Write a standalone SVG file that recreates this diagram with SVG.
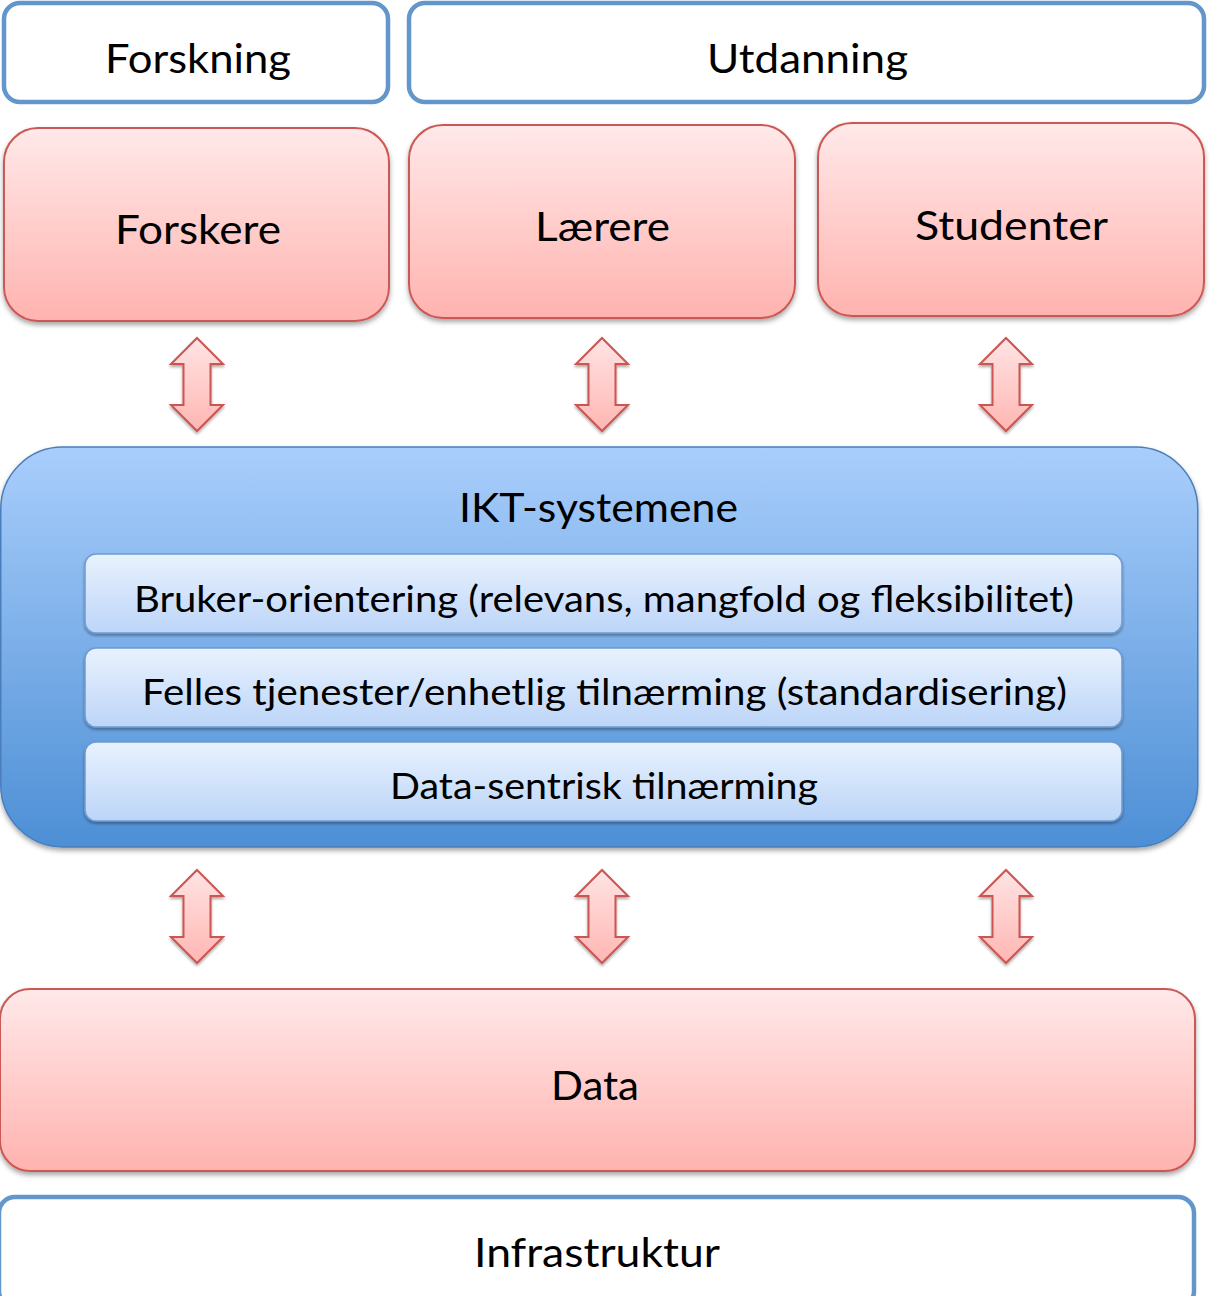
<svg xmlns="http://www.w3.org/2000/svg" width="1211" height="1296" viewBox="0 0 1211 1296">
  <defs>
    <linearGradient id="pink" x1="0" y1="0" x2="0" y2="1">
      <stop offset="0" stop-color="#FFE9E9"/>
      <stop offset="1" stop-color="#FFB3AF"/>
    </linearGradient>
    <linearGradient id="blue" x1="0" y1="0" x2="0" y2="1">
      <stop offset="0" stop-color="#A9CEFC"/>
      <stop offset="1" stop-color="#4D8FD5"/>
    </linearGradient>
    <linearGradient id="bar" x1="0" y1="0" x2="0" y2="1">
      <stop offset="0" stop-color="#E9F2FE"/>
      <stop offset="1" stop-color="#BCD5F8"/>
    </linearGradient>
    <linearGradient id="arrowfill" x1="0" y1="0" x2="0" y2="1">
      <stop offset="0" stop-color="#FFE4E4"/>
      <stop offset="1" stop-color="#FFB6B2"/>
    </linearGradient>
    <filter id="shadow" x="-5%" y="-10%" width="110%" height="125%">
      <feDropShadow dx="0" dy="3" stdDeviation="2.5" flood-color="#000" flood-opacity="0.35"/>
    </filter>
    <filter id="shadowsm" x="-5%" y="-20%" width="110%" height="150%">
      <feDropShadow dx="0" dy="2" stdDeviation="1.5" flood-color="#000" flood-opacity="0.35"/>
    </filter>
  </defs>
  <style>
    .outline { fill: #FFFFFF; stroke: #6396CA; stroke-width: 4.5; }
    .pinkbox { fill: url(#pink); stroke: #CC5854; stroke-width: 2; filter: url(#shadow); }
    .ikt { fill: url(#blue); stroke: #4A7EBA; stroke-width: 1.5; filter: url(#shadow); }
    .bar { fill: url(#bar); stroke: #6F9BD1; stroke-width: 1.5; filter: url(#shadowsm); }
    .arrow { fill: url(#arrowfill); stroke: #CB5551; stroke-width: 2; stroke-linejoin: miter; filter: url(#shadowsm); }
    text { font-family: Lato, "Open Sans", "Liberation Sans", sans-serif; fill: #000000; text-anchor: middle; }
    .big { font-size: 40px; }
    .mid { font-size: 37px; }
  </style>

  <g id="forskning">
    <rect class="outline" x="4" y="3" width="384" height="99" rx="16"/>
    <text class="big" x="198" y="73" textLength="186" lengthAdjust="spacingAndGlyphs">Forskning</text>
  </g>
  <g id="utdanning">
    <rect class="outline" x="409" y="3" width="795" height="99" rx="16"/>
    <text class="big" x="807.5" y="73" textLength="201" lengthAdjust="spacingAndGlyphs">Utdanning</text>
  </g>

  <g id="forskere">
    <rect class="pinkbox" x="4" y="128" width="385" height="193" rx="34"/>
    <text class="big" x="198" y="244" textLength="166" lengthAdjust="spacingAndGlyphs">Forskere</text>
  </g>
  <g id="laerere">
    <rect class="pinkbox" x="409" y="125" width="386" height="193" rx="34"/>
    <text class="big" x="602.5" y="241" textLength="135" lengthAdjust="spacingAndGlyphs">Lærere</text>
  </g>
  <g id="studenter">
    <rect class="pinkbox" x="818" y="123" width="386" height="193" rx="34"/>
    <text class="big" x="1011.5" y="240" textLength="193" lengthAdjust="spacingAndGlyphs">Studenter</text>
  </g>

  <g id="ikt-systemene">
    <rect class="ikt" x="0.75" y="447" width="1197" height="400" rx="62"/>
    <text class="big" x="598.5" y="522" textLength="279" lengthAdjust="spacingAndGlyphs">IKT-systemene</text>
  </g>
  <g id="bruker-orientering">
    <rect class="bar" x="85" y="554" width="1037" height="79" rx="11"/>
    <text class="mid" x="604" y="612" textLength="940" lengthAdjust="spacingAndGlyphs">Bruker-orientering (relevans, mangfold og fleksibilitet)</text>
  </g>
  <g id="felles-tjenester">
    <rect class="bar" x="85" y="648" width="1037" height="79" rx="11"/>
    <text class="mid" x="604.5" y="705" textLength="925" lengthAdjust="spacingAndGlyphs">Felles tjenester/enhetlig tilnærming (standardisering)</text>
  </g>
  <g id="data-sentrisk">
    <rect class="bar" x="85" y="742" width="1037" height="79" rx="11"/>
    <text class="mid" x="604" y="799" textLength="428" lengthAdjust="spacingAndGlyphs">Data-sentrisk tilnærming</text>
  </g>

  <g id="data">
    <rect class="pinkbox" x="0" y="989" width="1195" height="182" rx="30"/>
    <text class="big" x="595" y="1100" textLength="88" lengthAdjust="spacingAndGlyphs">Data</text>
  </g>
  <g id="infrastruktur">
    <rect class="outline" x="-1" y="1197" width="1195" height="110" rx="16"/>
    <text class="big" x="597" y="1267" textLength="246" lengthAdjust="spacingAndGlyphs">Infrastruktur</text>
  </g>

  <g id="connectors">
    <polygon class="arrow" points="197,338 223,364 210.5,364 210.5,405 223,405 197,431 171,405 183.5,405 183.5,364 171,364"/>
    <polygon class="arrow" points="602,338 628,364 615.5,364 615.5,405 628,405 602,431 576,405 588.5,405 588.5,364 576,364"/>
    <polygon class="arrow" points="1006,338 1032,364 1019.5,364 1019.5,405 1032,405 1006,431 980,405 992.5,405 992.5,364 980,364"/>
    <polygon class="arrow" points="197,870 223,896 210.5,896 210.5,937 223,937 197,963 171,937 183.5,937 183.5,896 171,896"/>
    <polygon class="arrow" points="602,870 628,896 615.5,896 615.5,937 628,937 602,963 576,937 588.5,937 588.5,896 576,896"/>
    <polygon class="arrow" points="1006,870 1032,896 1019.5,896 1019.5,937 1032,937 1006,963 980,937 992.5,937 992.5,896 980,896"/>
  </g>
</svg>
